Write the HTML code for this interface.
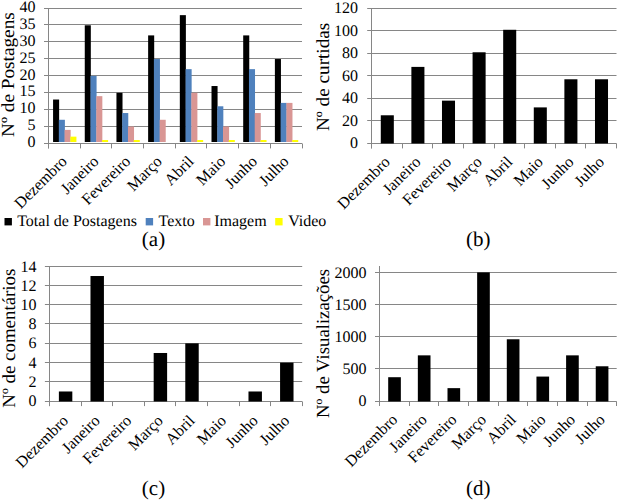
<!DOCTYPE html>
<html><head><meta charset="utf-8"><style>
html,body{margin:0;padding:0;background:#fff;width:620px;height:501px;overflow:hidden}
svg{display:block}
text{font-family:"Liberation Serif", serif;fill:#000;text-rendering:geometricPrecision}
</style></head><body><svg width="620" height="501" viewBox="0 0 620 501" font-family="'Liberation Serif', serif" fill="#000"><line x1="44.00" y1="143.50" x2="302.00" y2="143.50" stroke="#868686" stroke-width="1"/><text x="35.50" y="147.00" font-size="16" text-anchor="end">0</text><line x1="44.00" y1="126.50" x2="302.00" y2="126.50" stroke="#868686" stroke-width="1"/><text x="35.50" y="130.12" font-size="16" text-anchor="end">5</text><line x1="44.00" y1="109.50" x2="302.00" y2="109.50" stroke="#868686" stroke-width="1"/><text x="35.50" y="113.25" font-size="16" text-anchor="end">10</text><line x1="44.00" y1="92.50" x2="302.00" y2="92.50" stroke="#868686" stroke-width="1"/><text x="35.50" y="96.38" font-size="16" text-anchor="end">15</text><line x1="44.00" y1="75.50" x2="302.00" y2="75.50" stroke="#868686" stroke-width="1"/><text x="35.50" y="79.50" font-size="16" text-anchor="end">20</text><line x1="44.00" y1="58.50" x2="302.00" y2="58.50" stroke="#868686" stroke-width="1"/><text x="35.50" y="62.62" font-size="16" text-anchor="end">25</text><line x1="44.00" y1="41.50" x2="302.00" y2="41.50" stroke="#868686" stroke-width="1"/><text x="35.50" y="45.75" font-size="16" text-anchor="end">30</text><line x1="44.00" y1="24.50" x2="302.00" y2="24.50" stroke="#868686" stroke-width="1"/><text x="35.50" y="28.88" font-size="16" text-anchor="end">35</text><line x1="44.00" y1="8.50" x2="302.00" y2="8.50" stroke="#868686" stroke-width="1"/><text x="35.50" y="12.00" font-size="16" text-anchor="end">40</text><line x1="48.50" y1="8.00" x2="48.50" y2="148.40" stroke="#868686" stroke-width="1"/><line x1="48.50" y1="143.50" x2="48.50" y2="148.40" stroke="#868686" stroke-width="1"/><line x1="80.50" y1="143.50" x2="80.50" y2="148.40" stroke="#868686" stroke-width="1"/><line x1="111.50" y1="143.50" x2="111.50" y2="148.40" stroke="#868686" stroke-width="1"/><line x1="143.50" y1="143.50" x2="143.50" y2="148.40" stroke="#868686" stroke-width="1"/><line x1="175.50" y1="143.50" x2="175.50" y2="148.40" stroke="#868686" stroke-width="1"/><line x1="206.50" y1="143.50" x2="206.50" y2="148.40" stroke="#868686" stroke-width="1"/><line x1="238.50" y1="143.50" x2="238.50" y2="148.40" stroke="#868686" stroke-width="1"/><line x1="270.50" y1="143.50" x2="270.50" y2="148.40" stroke="#868686" stroke-width="1"/><line x1="302.50" y1="143.50" x2="302.50" y2="148.40" stroke="#868686" stroke-width="1"/><rect x="53.07" y="99.53" width="6.06" height="42.47" fill="#000"/><rect x="58.83" y="119.78" width="6.06" height="22.22" fill="#4F81BD"/><rect x="64.59" y="129.90" width="6.06" height="12.10" fill="#D99694"/><rect x="70.36" y="136.65" width="6.06" height="5.35" fill="#FFFF00"/><rect x="84.76" y="25.28" width="6.06" height="116.72" fill="#000"/><rect x="90.52" y="75.90" width="6.06" height="66.10" fill="#4F81BD"/><rect x="96.28" y="96.15" width="6.06" height="45.85" fill="#D99694"/><rect x="102.04" y="140.03" width="6.06" height="1.97" fill="#FFFF00"/><rect x="116.45" y="92.78" width="6.06" height="49.22" fill="#000"/><rect x="122.21" y="113.03" width="6.06" height="28.97" fill="#4F81BD"/><rect x="127.97" y="126.53" width="6.06" height="15.47" fill="#D99694"/><rect x="133.73" y="140.03" width="6.06" height="1.97" fill="#FFFF00"/><rect x="148.13" y="35.40" width="6.06" height="106.60" fill="#000"/><rect x="153.89" y="59.03" width="6.06" height="82.97" fill="#4F81BD"/><rect x="159.66" y="119.78" width="6.06" height="22.22" fill="#D99694"/><rect x="179.82" y="15.15" width="6.06" height="126.85" fill="#000"/><rect x="185.58" y="69.15" width="6.06" height="72.85" fill="#4F81BD"/><rect x="191.34" y="92.78" width="6.06" height="49.22" fill="#D99694"/><rect x="197.11" y="140.03" width="6.06" height="1.97" fill="#FFFF00"/><rect x="211.51" y="86.03" width="6.06" height="55.97" fill="#000"/><rect x="217.27" y="106.28" width="6.06" height="35.72" fill="#4F81BD"/><rect x="223.03" y="126.53" width="6.06" height="15.47" fill="#D99694"/><rect x="228.79" y="140.03" width="6.06" height="1.97" fill="#FFFF00"/><rect x="243.20" y="35.40" width="6.06" height="106.60" fill="#000"/><rect x="248.96" y="69.15" width="6.06" height="72.85" fill="#4F81BD"/><rect x="254.72" y="113.03" width="6.06" height="28.97" fill="#D99694"/><rect x="260.48" y="140.03" width="6.06" height="1.97" fill="#FFFF00"/><rect x="274.88" y="59.03" width="6.06" height="82.97" fill="#000"/><rect x="280.64" y="102.90" width="6.06" height="39.10" fill="#4F81BD"/><rect x="286.41" y="102.90" width="6.06" height="39.10" fill="#D99694"/><rect x="292.17" y="140.03" width="6.06" height="1.97" fill="#FFFF00"/><text x="67.94" y="162.40" font-size="16" text-anchor="end" transform="rotate(-45 67.94 162.40)">Dezembro</text><text x="99.63" y="162.40" font-size="16" text-anchor="end" transform="rotate(-45 99.63 162.40)">Janeiro</text><text x="131.32" y="162.40" font-size="16" text-anchor="end" transform="rotate(-45 131.32 162.40)">Fevereiro</text><text x="163.01" y="162.40" font-size="16" text-anchor="end" transform="rotate(-45 163.01 162.40)">Março</text><text x="194.69" y="162.40" font-size="16" text-anchor="end" transform="rotate(-45 194.69 162.40)">Abril</text><text x="226.38" y="162.40" font-size="16" text-anchor="end" transform="rotate(-45 226.38 162.40)">Maio</text><text x="258.07" y="162.40" font-size="16" text-anchor="end" transform="rotate(-45 258.07 162.40)">Junho</text><text x="289.76" y="162.40" font-size="16" text-anchor="end" transform="rotate(-45 289.76 162.40)">Julho</text><text x="14.10" y="74.55" font-size="18.4" text-anchor="middle" textLength="124.7" lengthAdjust="spacingAndGlyphs" transform="rotate(-90 14.10 74.55)">Nº de Postagens</text><line x1="367.20" y1="143.50" x2="616.50" y2="143.50" stroke="#868686" stroke-width="1"/><text x="358.10" y="148.30" font-size="16" text-anchor="end">0</text><line x1="367.20" y1="120.50" x2="616.50" y2="120.50" stroke="#868686" stroke-width="1"/><text x="358.10" y="125.80" font-size="16" text-anchor="end">20</text><line x1="367.20" y1="98.50" x2="616.50" y2="98.50" stroke="#868686" stroke-width="1"/><text x="358.10" y="103.30" font-size="16" text-anchor="end">40</text><line x1="367.20" y1="75.50" x2="616.50" y2="75.50" stroke="#868686" stroke-width="1"/><text x="358.10" y="80.80" font-size="16" text-anchor="end">60</text><line x1="367.20" y1="53.50" x2="616.50" y2="53.50" stroke="#868686" stroke-width="1"/><text x="358.10" y="58.30" font-size="16" text-anchor="end">80</text><line x1="367.20" y1="30.50" x2="616.50" y2="30.50" stroke="#868686" stroke-width="1"/><text x="358.10" y="35.80" font-size="16" text-anchor="end">100</text><line x1="367.20" y1="8.50" x2="616.50" y2="8.50" stroke="#868686" stroke-width="1"/><text x="358.10" y="13.30" font-size="16" text-anchor="end">120</text><line x1="371.50" y1="8.00" x2="371.50" y2="148.40" stroke="#868686" stroke-width="1"/><line x1="371.50" y1="143.50" x2="371.50" y2="148.40" stroke="#868686" stroke-width="1"/><line x1="402.50" y1="143.50" x2="402.50" y2="148.40" stroke="#868686" stroke-width="1"/><line x1="432.50" y1="143.50" x2="432.50" y2="148.40" stroke="#868686" stroke-width="1"/><line x1="463.50" y1="143.50" x2="463.50" y2="148.40" stroke="#868686" stroke-width="1"/><line x1="494.50" y1="143.50" x2="494.50" y2="148.40" stroke="#868686" stroke-width="1"/><line x1="524.50" y1="143.50" x2="524.50" y2="148.40" stroke="#868686" stroke-width="1"/><line x1="555.50" y1="143.50" x2="555.50" y2="148.40" stroke="#868686" stroke-width="1"/><line x1="585.50" y1="143.50" x2="585.50" y2="148.40" stroke="#868686" stroke-width="1"/><line x1="616.50" y1="143.50" x2="616.50" y2="148.40" stroke="#868686" stroke-width="1"/><rect x="380.78" y="115.28" width="13.04" height="28.22" fill="#000"/><rect x="411.38" y="66.90" width="13.04" height="76.60" fill="#000"/><rect x="441.98" y="100.65" width="13.04" height="42.85" fill="#000"/><rect x="472.58" y="52.28" width="13.04" height="91.22" fill="#000"/><rect x="503.18" y="29.78" width="13.04" height="113.72" fill="#000"/><rect x="533.78" y="107.40" width="13.04" height="36.10" fill="#000"/><rect x="564.38" y="79.28" width="13.04" height="64.22" fill="#000"/><rect x="594.98" y="79.28" width="13.04" height="64.22" fill="#000"/><text x="391.00" y="162.90" font-size="16" text-anchor="end" transform="rotate(-45 391.00 162.90)">Dezembro</text><text x="421.60" y="162.90" font-size="16" text-anchor="end" transform="rotate(-45 421.60 162.90)">Janeiro</text><text x="452.20" y="162.90" font-size="16" text-anchor="end" transform="rotate(-45 452.20 162.90)">Fevereiro</text><text x="482.80" y="162.90" font-size="16" text-anchor="end" transform="rotate(-45 482.80 162.90)">Março</text><text x="513.40" y="162.90" font-size="16" text-anchor="end" transform="rotate(-45 513.40 162.90)">Abril</text><text x="544.00" y="162.90" font-size="16" text-anchor="end" transform="rotate(-45 544.00 162.90)">Maio</text><text x="574.60" y="162.90" font-size="16" text-anchor="end" transform="rotate(-45 574.60 162.90)">Junho</text><text x="605.20" y="162.90" font-size="16" text-anchor="end" transform="rotate(-45 605.20 162.90)">Julho</text><text x="329.00" y="76.85" font-size="18.4" text-anchor="middle" textLength="108.3" lengthAdjust="spacingAndGlyphs" transform="rotate(-90 329.00 76.85)">Nº de curtidas</text><line x1="44.90" y1="401.50" x2="302.20" y2="401.50" stroke="#868686" stroke-width="1"/><text x="36.40" y="406.20" font-size="16" text-anchor="end">0</text><line x1="44.90" y1="381.50" x2="302.20" y2="381.50" stroke="#868686" stroke-width="1"/><text x="36.40" y="386.96" font-size="16" text-anchor="end">2</text><line x1="44.90" y1="362.50" x2="302.20" y2="362.50" stroke="#868686" stroke-width="1"/><text x="36.40" y="367.71" font-size="16" text-anchor="end">4</text><line x1="44.90" y1="343.50" x2="302.20" y2="343.50" stroke="#868686" stroke-width="1"/><text x="36.40" y="348.47" font-size="16" text-anchor="end">6</text><line x1="44.90" y1="323.50" x2="302.20" y2="323.50" stroke="#868686" stroke-width="1"/><text x="36.40" y="329.23" font-size="16" text-anchor="end">8</text><line x1="44.90" y1="304.50" x2="302.20" y2="304.50" stroke="#868686" stroke-width="1"/><text x="36.40" y="309.99" font-size="16" text-anchor="end">10</text><line x1="44.90" y1="285.50" x2="302.20" y2="285.50" stroke="#868686" stroke-width="1"/><text x="36.40" y="290.74" font-size="16" text-anchor="end">12</text><line x1="44.90" y1="266.50" x2="302.20" y2="266.50" stroke="#868686" stroke-width="1"/><text x="36.40" y="271.50" font-size="16" text-anchor="end">14</text><line x1="49.50" y1="266.00" x2="49.50" y2="406.10" stroke="#868686" stroke-width="1"/><line x1="49.50" y1="401.50" x2="49.50" y2="406.10" stroke="#868686" stroke-width="1"/><line x1="81.50" y1="401.50" x2="81.50" y2="406.10" stroke="#868686" stroke-width="1"/><line x1="112.50" y1="401.50" x2="112.50" y2="406.10" stroke="#868686" stroke-width="1"/><line x1="144.50" y1="401.50" x2="144.50" y2="406.10" stroke="#868686" stroke-width="1"/><line x1="175.50" y1="401.50" x2="175.50" y2="406.10" stroke="#868686" stroke-width="1"/><line x1="207.50" y1="401.50" x2="207.50" y2="406.10" stroke="#868686" stroke-width="1"/><line x1="239.50" y1="401.50" x2="239.50" y2="406.10" stroke="#868686" stroke-width="1"/><line x1="270.50" y1="401.50" x2="270.50" y2="406.10" stroke="#868686" stroke-width="1"/><line x1="302.50" y1="401.50" x2="302.50" y2="406.10" stroke="#868686" stroke-width="1"/><rect x="58.88" y="391.48" width="13.44" height="10.02" fill="#000"/><rect x="90.48" y="276.02" width="13.44" height="125.48" fill="#000"/><rect x="153.68" y="352.99" width="13.44" height="48.51" fill="#000"/><rect x="185.28" y="343.37" width="13.44" height="58.13" fill="#000"/><rect x="248.48" y="391.48" width="13.44" height="10.02" fill="#000"/><rect x="280.08" y="362.61" width="13.44" height="38.89" fill="#000"/><text x="69.20" y="421.60" font-size="16" text-anchor="end" transform="rotate(-45 69.20 421.60)">Dezembro</text><text x="100.80" y="421.60" font-size="16" text-anchor="end" transform="rotate(-45 100.80 421.60)">Janeiro</text><text x="132.40" y="421.60" font-size="16" text-anchor="end" transform="rotate(-45 132.40 421.60)">Fevereiro</text><text x="164.00" y="421.60" font-size="16" text-anchor="end" transform="rotate(-45 164.00 421.60)">Março</text><text x="195.60" y="421.60" font-size="16" text-anchor="end" transform="rotate(-45 195.60 421.60)">Abril</text><text x="227.20" y="421.60" font-size="16" text-anchor="end" transform="rotate(-45 227.20 421.60)">Maio</text><text x="258.80" y="421.60" font-size="16" text-anchor="end" transform="rotate(-45 258.80 421.60)">Junho</text><text x="290.40" y="421.60" font-size="16" text-anchor="end" transform="rotate(-45 290.40 421.60)">Julho</text><text x="15.00" y="338.15" font-size="18.4" text-anchor="middle" textLength="139.1" lengthAdjust="spacingAndGlyphs" transform="rotate(-90 15.00 338.15)">Nº de comentários</text><line x1="375.00" y1="401.50" x2="616.70" y2="401.50" stroke="#868686" stroke-width="1"/><text x="366.50" y="406.10" font-size="16" text-anchor="end">0</text><line x1="375.00" y1="368.50" x2="616.70" y2="368.50" stroke="#868686" stroke-width="1"/><text x="366.50" y="373.95" font-size="16" text-anchor="end">500</text><line x1="375.00" y1="336.50" x2="616.70" y2="336.50" stroke="#868686" stroke-width="1"/><text x="366.50" y="341.80" font-size="16" text-anchor="end">1000</text><line x1="375.00" y1="304.50" x2="616.70" y2="304.50" stroke="#868686" stroke-width="1"/><text x="366.50" y="309.65" font-size="16" text-anchor="end">1500</text><line x1="375.00" y1="272.50" x2="616.70" y2="272.50" stroke="#868686" stroke-width="1"/><text x="366.50" y="277.50" font-size="16" text-anchor="end">2000</text><line x1="379.50" y1="266.00" x2="379.50" y2="406.00" stroke="#868686" stroke-width="1"/><line x1="379.50" y1="401.50" x2="379.50" y2="406.00" stroke="#868686" stroke-width="1"/><line x1="409.50" y1="401.50" x2="409.50" y2="406.00" stroke="#868686" stroke-width="1"/><line x1="438.50" y1="401.50" x2="438.50" y2="406.00" stroke="#868686" stroke-width="1"/><line x1="468.50" y1="401.50" x2="468.50" y2="406.00" stroke="#868686" stroke-width="1"/><line x1="498.50" y1="401.50" x2="498.50" y2="406.00" stroke="#868686" stroke-width="1"/><line x1="527.50" y1="401.50" x2="527.50" y2="406.00" stroke="#868686" stroke-width="1"/><line x1="557.50" y1="401.50" x2="557.50" y2="406.00" stroke="#868686" stroke-width="1"/><line x1="587.50" y1="401.50" x2="587.50" y2="406.00" stroke="#868686" stroke-width="1"/><line x1="616.50" y1="401.50" x2="616.50" y2="406.00" stroke="#868686" stroke-width="1"/><rect x="388.19" y="377.21" width="12.66" height="24.29" fill="#000"/><rect x="417.84" y="355.35" width="12.66" height="46.15" fill="#000"/><rect x="447.50" y="388.14" width="12.66" height="13.36" fill="#000"/><rect x="477.15" y="272.40" width="12.66" height="129.10" fill="#000"/><rect x="506.80" y="339.27" width="12.66" height="62.23" fill="#000"/><rect x="536.45" y="376.57" width="12.66" height="24.93" fill="#000"/><rect x="566.10" y="355.35" width="12.66" height="46.15" fill="#000"/><rect x="595.75" y="366.28" width="12.66" height="35.22" fill="#000"/><text x="398.32" y="420.50" font-size="16" text-anchor="end" transform="rotate(-45 398.32 420.50)">Dezembro</text><text x="427.97" y="420.50" font-size="16" text-anchor="end" transform="rotate(-45 427.97 420.50)">Janeiro</text><text x="457.62" y="420.50" font-size="16" text-anchor="end" transform="rotate(-45 457.62 420.50)">Fevereiro</text><text x="487.28" y="420.50" font-size="16" text-anchor="end" transform="rotate(-45 487.28 420.50)">Março</text><text x="516.93" y="420.50" font-size="16" text-anchor="end" transform="rotate(-45 516.93 420.50)">Abril</text><text x="546.58" y="420.50" font-size="16" text-anchor="end" transform="rotate(-45 546.58 420.50)">Maio</text><text x="576.23" y="420.50" font-size="16" text-anchor="end" transform="rotate(-45 576.23 420.50)">Junho</text><text x="605.88" y="420.50" font-size="16" text-anchor="end" transform="rotate(-45 605.88 420.50)">Julho</text><text x="329.00" y="343.45" font-size="18.4" text-anchor="middle" textLength="148.9" lengthAdjust="spacingAndGlyphs" transform="rotate(-90 329.00 343.45)">Nº de Visualizações</text><rect x="4.50" y="218.00" width="7.40" height="7.40" fill="#000"/><text x="17.20" y="226.00" font-size="16" text-anchor="start">Total de Postagens</text><rect x="145.70" y="218.00" width="7.40" height="7.40" fill="#4F81BD"/><text x="158.60" y="226.00" font-size="16" text-anchor="start">Texto</text><rect x="203.00" y="218.00" width="7.40" height="7.40" fill="#D99694"/><text x="214.20" y="226.00" font-size="16" text-anchor="start">Imagem</text><rect x="275.20" y="218.00" width="7.40" height="7.40" fill="#FFFF00"/><text x="288.20" y="226.00" font-size="16" text-anchor="start">Video</text><text x="153.50" y="245.60" font-size="21" text-anchor="middle">(a)</text><text x="478.30" y="245.60" font-size="21" text-anchor="middle">(b)</text><text x="153.50" y="494.60" font-size="21" text-anchor="middle">(c)</text><text x="478.30" y="494.60" font-size="21" text-anchor="middle">(d)</text></svg></body></html>
